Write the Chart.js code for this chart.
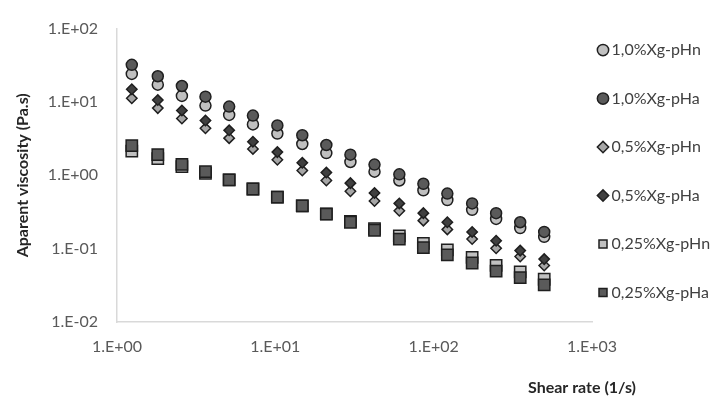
<!DOCTYPE html>
<html>
<head>
<meta charset="utf-8">
<script src="https://cdn.jsdelivr.net/npm/chart.js@4"></script>
<style>
  html, body { margin: 0; padding: 0; background: #fff; }
</style>
</head>
<body>
<canvas id="chart" width="716" height="399"></canvas>
<script>
// shear rate (1/s)
const shearRate = [1.24, 1.81, 2.57, 3.62, 5.11, 7.22, 10.3, 14.8, 21.0, 29.8, 42.3, 60.7, 86.1, 122, 175, 248, 352, 499];

// apparent viscosity (Pa.s) per sample
const xg10pHn = [24.1, 17.2, 12.1, 8.93, 6.65, 4.94, 3.71, 2.67, 2.01, 1.52, 1.12, 0.850, 0.625, 0.460, 0.338, 0.254, 0.191, 0.145];
const xg10pHa = [32.1, 22.4, 16.5, 11.8, 8.65, 6.51, 4.79, 3.52, 2.59, 1.91, 1.40, 1.03, 0.766, 0.563, 0.414, 0.305, 0.229, 0.169];
const xg05pHn = [11.2, 8.24, 5.94, 4.37, 3.21, 2.29, 1.63, 1.16, 0.850, 0.606, 0.446, 0.328, 0.241, 0.183, 0.135, 0.101, 0.078, 0.059];
const xg05pHa = [14.9, 10.6, 7.66, 5.58, 4.10, 2.87, 2.07, 1.48, 1.09, 0.782, 0.575, 0.414, 0.305, 0.229, 0.169, 0.128, 0.094, 0.072];
const xg025pHn = [2.13, 1.69, 1.31, 1.06, 0.866, 0.651, 0.504, 0.383, 0.298, 0.236, 0.187, 0.149, 0.118, 0.096, 0.0759, 0.0593, 0.0483, 0.0383];
const xg025pHa = [2.54, 1.91, 1.41, 1.12, 0.866, 0.651, 0.504, 0.383, 0.296, 0.229, 0.178, 0.135, 0.103, 0.0824, 0.0637, 0.0493, 0.0402, 0.0321];

const seriesNames = ["1,0%Xg-pHn", "1,0%Xg-pHa", "0,5%Xg-pHn", "0,5%Xg-pHa", "0,25%Xg-pHn", "0,25%Xg-pHa"];

// axis ticks
const xTicks = [1, 10, 100, 1000];
const xTickLabels = ["1.E+00", "1.E+01", "1.E+02", "1.E+03"];
const yTicks = [0.01, 0.1, 1, 10, 100];
const yTickLabels = ["1.E-02", "1.E-01", "1.E+00", "1.E+01", "1.E+02"];

const xTitle = "Shear rate (1/s)";
const yTitle = "Aparent viscosity (Pa.s)";

const FONT = "Lato";

function toPoints(values) {
  return values.map((v, i) => ({ x: shearRate[i], y: v }));
}

function makeSet(index, values, style, fill, radius) {
  return {
    label: seriesNames[index],
    data: toPoints(values),
    pointStyle: style,
    pointRadius: radius,
    pointHoverRadius: radius,
    backgroundColor: fill,
    borderColor: "#1f1f1f",
    pointBorderWidth: 1.5,
    borderWidth: 1.5,
    showLine: false,
    order: -index // later series sit on top, like the original
  };
}

// draws the x axis title at the lower right, where the original has it
const xTitlePlugin = {
  id: "xTitle",
  afterDraw(chart) {
    const { ctx, chartArea } = chart;
    ctx.save();
    ctx.font = "bold 16px " + FONT;
    ctx.fillStyle = "#262626";
    ctx.textAlign = "center";
    ctx.textBaseline = "middle";
    ctx.fillText(xTitle, chartArea.right - 10, chartArea.bottom + 66);
    ctx.restore();
  }
};

// legend sits closer to the plot and is centred on the plot height
const legendPlacePlugin = {
  id: "legendPlace",
  afterLayout(chart) {
    const lg = chart.legend;
    if (!lg) return;
    lg.left = chart.chartArea.right - 22;
    lg.right = chart.width;
    lg.top = chart.chartArea.top - 44;
    lg.bottom = chart.chartArea.bottom + 36;
  }
};

new Chart(document.getElementById("chart").getContext("2d"), {
  type: "scatter",
  data: {
    datasets: [
      makeSet(0, xg10pHn, "circle", "#c0c0c0", 5.5),
      makeSet(1, xg10pHa, "circle", "#5a5a5a", 5.5),
      makeSet(2, xg05pHn, "rectRot", "#a6a6a6", 5.2),
      makeSet(3, xg05pHa, "rectRot", "#404040", 5.2),
      makeSet(4, xg025pHn, "rect", "#c0c0c0", 8),
      makeSet(5, xg025pHa, "rect", "#5a5a5a", 8)
    ]
  },
  options: {
    responsive: false,
    animation: false,
    layout: { padding: { top: 22, right: 0, bottom: 37, left: 0 } },
    plugins: {
      tooltip: { enabled: false },
      legend: {
        position: "right",
        align: "center",
        maxWidth: 124,
        labels: {
          usePointStyle: true,
          boxHeight: 8,
          boxWidth: 1,
          padding: 32.5,
          color: "#404040",
          font: { family: FONT, size: 16 },
          sort: (a, b) => a.datasetIndex - b.datasetIndex
        }
      }
    },
    scales: {
      x: {
        type: "logarithmic",
        min: 1,
        max: 1000,
        afterBuildTicks: (scale) => { scale.ticks = xTicks.map((v) => ({ value: v })); },
        afterFit: (scale) => { scale.height = 40; },
        grid: { display: false, drawTicks: false },
        border: { display: true, color: "#d9d9d9", width: 1.5 },
        ticks: {
          padding: 15,
          color: "#595959",
          font: { family: FONT, size: 16 },
          autoSkip: false,
          maxRotation: 0,
          callback: (value, index) => xTickLabels[index]
        }
      },
      y: {
        type: "logarithmic",
        min: 0.01,
        max: 100,
        afterBuildTicks: (scale) => { scale.ticks = yTicks.map((v) => ({ value: v })); },
        afterFit: (scale) => { scale.width = 117; },
        grid: { display: false, drawTicks: false },
        border: { display: true, color: "#d9d9d9", width: 1.5 },
        ticks: {
          padding: 19,
          color: "#595959",
          font: { family: FONT, size: 16 },
          autoSkip: false,
          callback: (value, index) => yTickLabels[index]
        },
        title: {
          display: true,
          text: yTitle,
          color: "#262626",
          font: { family: FONT, size: 16, weight: "bold" },
          padding: { top: 13, bottom: 0 }
        }
      }
    }
  },
  plugins: [xTitlePlugin, legendPlacePlugin]
});
</script>
</body>
</html>
